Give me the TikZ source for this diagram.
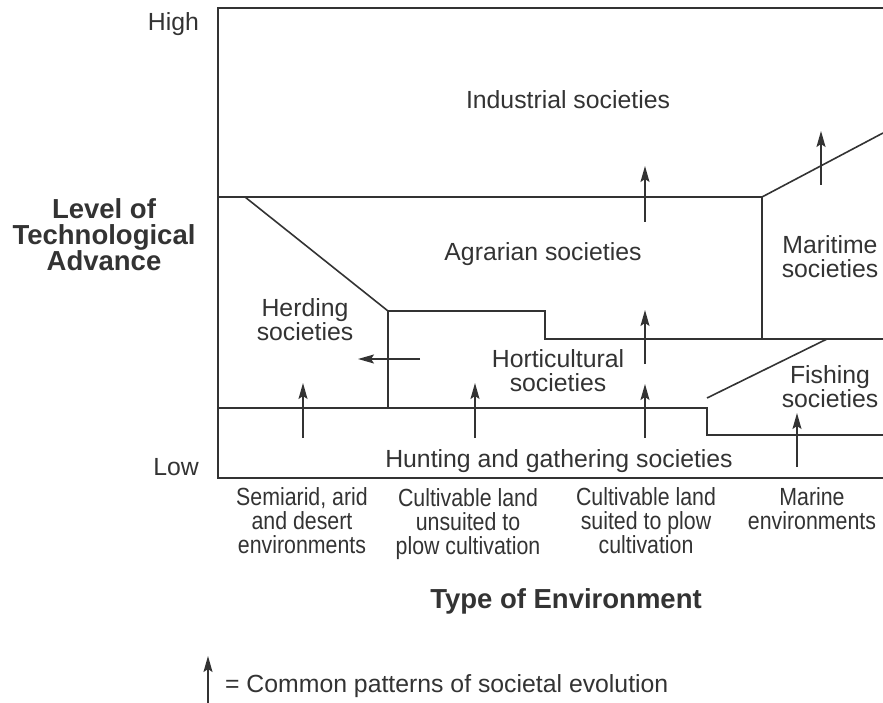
\documentclass[tikz,border=0pt]{standalone}
\usepackage{fontspec}
\setmainfont{Liberation Sans}
\newfontfamily\narrowfont[FakeStretch=0.86]{Liberation Sans}
\usetikzlibrary{arrows.meta, positioning}
\definecolor{ink}{HTML}{333333}

\begin{document}
\begin{tikzpicture}[x=1pt,y=-1pt,line width=1.6pt,color=ink,
  evo/.style={-{Stealth[length=16pt,width=9pt,inset=3pt]},line width=1.6pt},
  region/.style={align=center,font=\fontsize{24.8}{24}\selectfont},
  envlabel/.style={align=center,font=\narrowfont\fontsize{24.8}{24}\selectfont},
  axis/.style={align=center,font=\bfseries\fontsize{27.5}{25.5}\selectfont}]

  \useasboundingbox (0,0) rectangle (883,703);

  % frame
  \draw (883,8) -- (218,8) -- (218,478) -- (883,478);

  % region borders
  \coordinate (agL) at (218,197);
  \coordinate (agR) at (762,197);
  \coordinate (marR) at (883,133);
  \coordinate (hrdT) at (245,197);
  \coordinate (horTL) at (388,311);
  \coordinate (horBL) at (388,408);
  \coordinate (horStep) at (545,311);
  \coordinate (horTR) at (883,339);
  \coordinate (huntL) at (218,408);
  \coordinate (fshL) at (707,408);
  \coordinate (fshT) at (707,398);
  \coordinate (fshB) at (707,435);

  \draw (agL) -- (agR) -- (marR);
  \draw (hrdT) -- (horTL) -- (horBL);
  \draw (horTL) -- (horStep) -- (545,339) -- (horTR);
  \draw (agR) -- (762,339);
  \draw (huntL) -- (fshL) -- (fshB) -- (883,435);
  \draw (fshT) -- (827,339);

  % societies
  \node[region,anchor=base] (ind) at (568,109) {Industrial societies};
  \node[region,anchor=base] (agr) at (543,261) {Agrarian societies};
  \node[region] (mar) at (830,257) {Maritime\\societies};
  \node[region] (hrd) at (305,320) {Herding\\societies};
  \node[region] (hor) at (558,371) {Horticultural\\societies};
  \node[region] (fsh) at (830,387) {Fishing\\societies};
  \node[region,anchor=base] (hnt) at (559,467) {Hunting and gathering societies};

  % evolution arrows
  \draw[evo] (645,222) -- (645,166);
  \draw[evo] (821,185) -- (821,131);
  \draw[evo] (645,364) -- (645,310);
  \draw[evo] (645,438) -- (645,384);
  \draw[evo] (475,438) -- (475,383);
  \draw[evo] (303,438) -- (303,383);
  \draw[evo] (797,467) -- (797,413);
  \draw[evo] (420,359) -- (358,359);

  % axes
  \node[region,anchor=base east] (high) at (203,31) {High};
  \node[region,anchor=base east] (low) at (203,475) {Low};
  \node[axis] (level) at (104,235) {Level of\\Technological\\Advance};

  \node[envlabel] (semi) at (302,521) {Semiarid, arid\\and desert\\environments};
  \node[envlabel] (unsuit) at (468,524) {Cultivable land\\unsuited to\\plow cultivation};
  \node[envlabel] (suit) at (646,521) {Cultivable land\\suited to plow\\cultivation};
  \node[envlabel] (marine) at (812,509) {Marine\\environments};
  \node[axis,anchor=base] (type) at (566,608) {Type of Environment};

  % legend
  \draw[evo] (208,703) -- (208,656);
  \node[region,anchor=base west] (key) at (221,692) {= Common patterns of societal evolution};
\end{tikzpicture}
\end{document}
